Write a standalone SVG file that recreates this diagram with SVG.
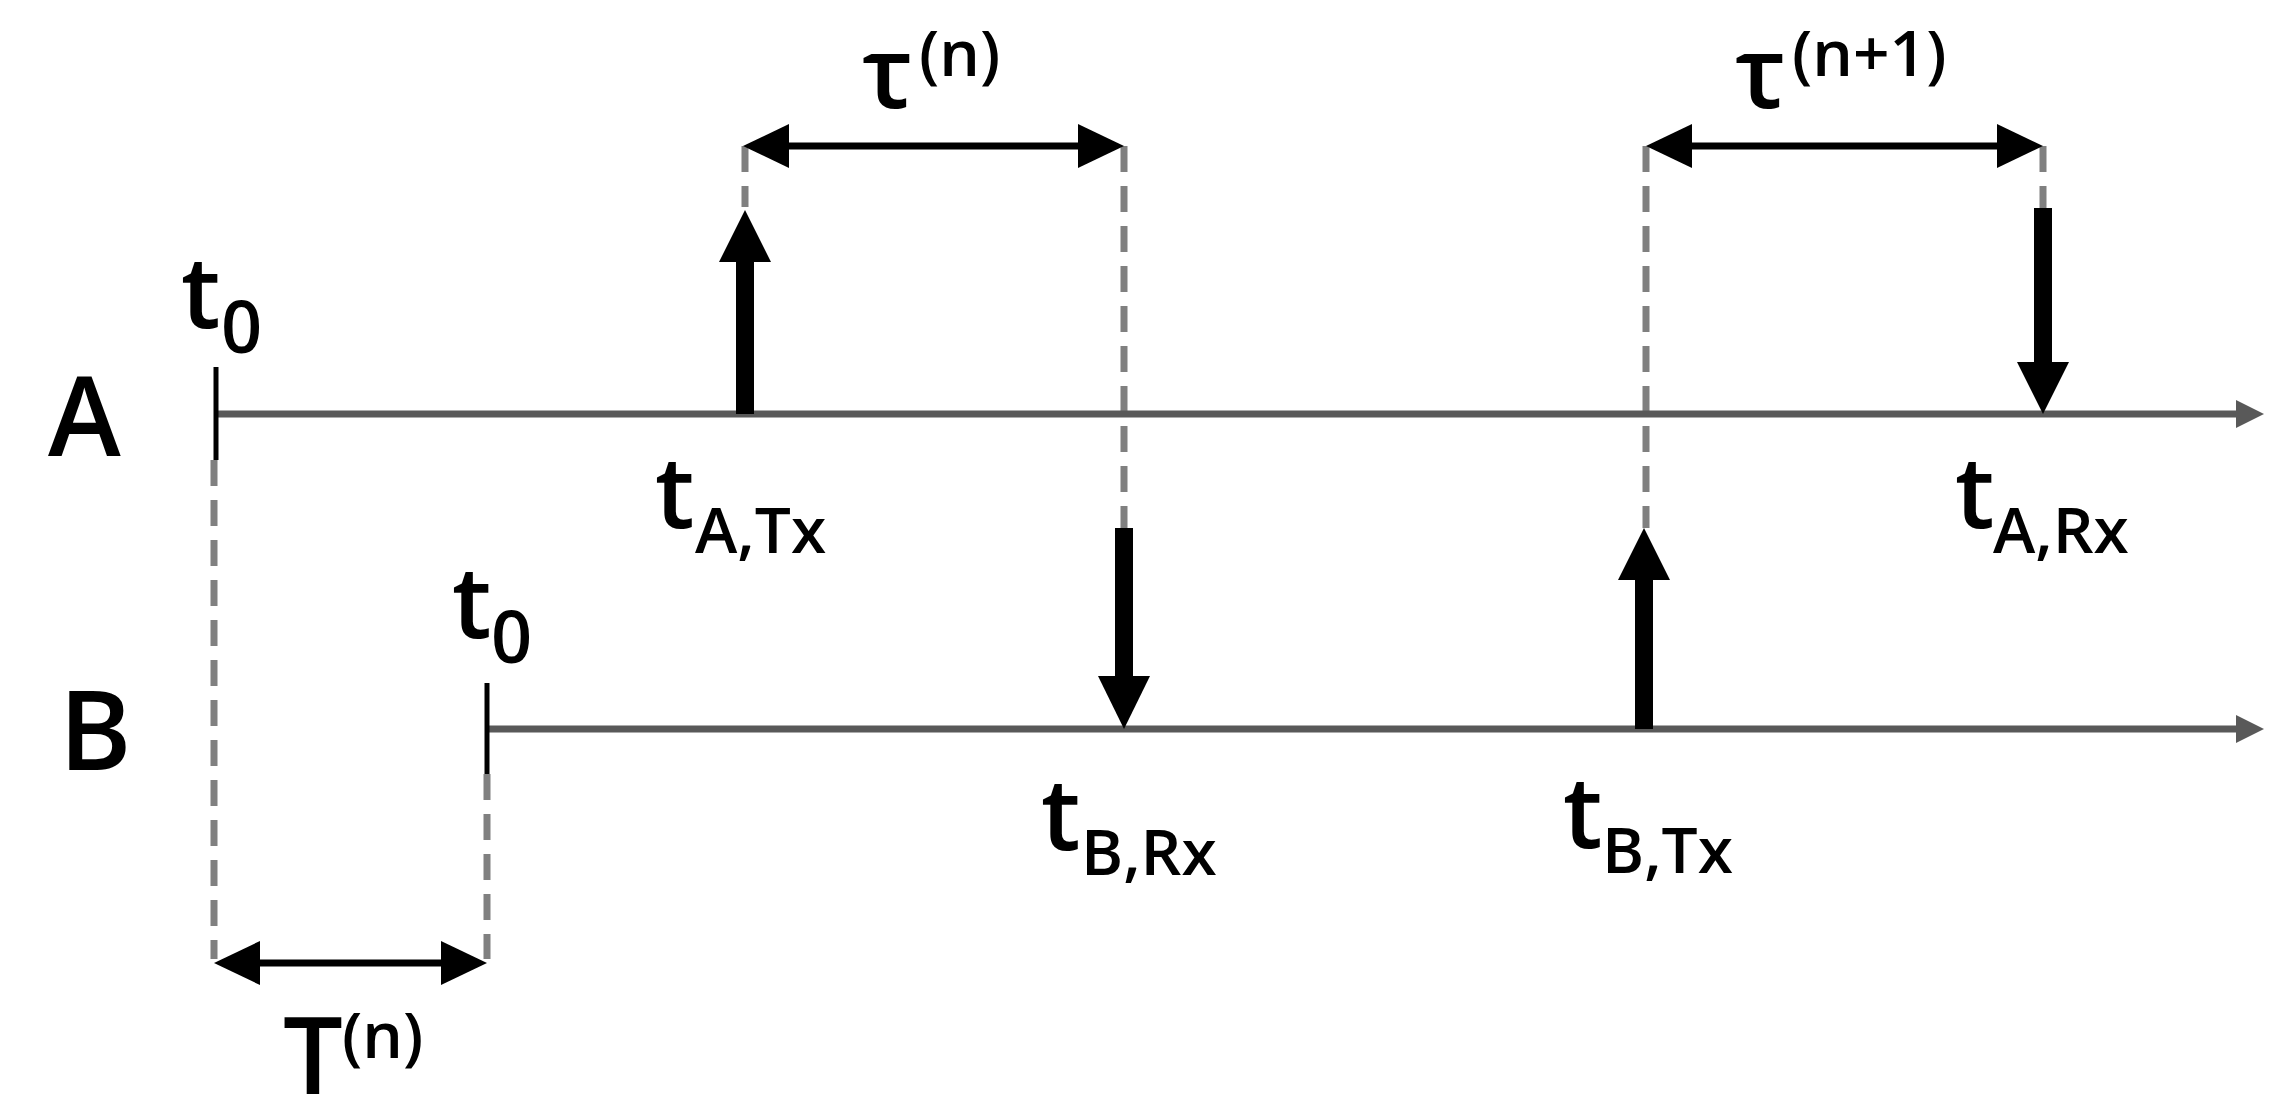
<svg xmlns="http://www.w3.org/2000/svg" width="2296" height="1118" viewBox="0 0 2296 1118">
<style>
text{font-family:"Open Sans","Liberation Sans",sans-serif;font-weight:600;fill:#000}
.axis{stroke:#595959;stroke-width:7;fill:none}
.dash{stroke:#808080;stroke-width:7;stroke-dasharray:26 14;fill:none}
.tick{stroke:#000;stroke-width:5}
.shaft{stroke:#000;stroke-width:18}
.dim{stroke:#000;stroke-width:7}
.big{font-size:100px}
.sub{font-size:64px}
.lab{font-size:110px}
</style>
<rect width="2296" height="1118" fill="#fff"/>
<g id="connectors">
<path class="dash" d="M214 460V959M487 774V959M745 146V207M1124 146V528M1646 146V528M2043 146V208"/>
<line class="axis" x1="216" y1="414" x2="2238" y2="414"/>
<polygon points="2236,400 2264,414 2236,428" fill="#595959"/>
<line class="axis" x1="487" y1="729" x2="2238" y2="729"/>
<polygon points="2236,715 2264,729 2236,743" fill="#595959"/>
<line class="tick" x1="216" y1="367" x2="216" y2="460"/>
<line class="tick" x1="487" y1="683" x2="487" y2="774"/>
<line class="shaft" x1="745" y1="414" x2="745" y2="258"/>
<polygon points="719,262 745,210 771,262"/>
<line class="shaft" x1="1124" y1="528" x2="1124" y2="680"/>
<polygon points="1098,676 1124,729 1150,676"/>
<line class="shaft" x1="1644" y1="729" x2="1644" y2="576"/>
<polygon points="1618,580 1644,528 1670,580"/>
<line class="shaft" x1="2043" y1="208" x2="2043" y2="366"/>
<polygon points="2017,362 2043,414 2069,362"/>
<line class="dim" x1="255" y1="963" x2="447" y2="963"/>
<polygon points="214,963 260,941 260,985"/><polygon points="487,963 441,941 441,985"/>
<line class="dim" x1="784" y1="146" x2="1083" y2="146"/>
<polygon points="743,146 789,124 789,168"/><polygon points="1124,146 1078,124 1078,168"/>
<line class="dim" x1="1687" y1="146" x2="2002" y2="146"/>
<polygon points="1646,146 1692,124 1692,168"/><polygon points="2043,146 1997,124 1997,168"/>
</g>
<g id="A"><text class="lab" x="48" y="456">A</text></g>
<g id="B"><text class="lab" x="59" y="770">B</text></g>
<g id="t0A"><text class="big" x="181" y="328">t</text><text x="221" y="353" font-size="72">0</text></g>
<g id="t0B"><text class="big" x="452" y="638">t</text><text x="491" y="663" font-size="72">0</text></g>
<g id="tATx"><text class="big" x="655" y="528">t</text><text class="sub" x="695" y="553">A,Tx</text></g>
<g id="tBRx"><text class="big" x="1041" y="850">t</text><text class="sub" x="1081" y="875">B,Rx</text></g>
<g id="tBTx"><text class="big" x="1563" y="848">t</text><text class="sub" x="1602" y="873">B,Tx</text></g>
<g id="tARx"><text class="big" x="1955" y="528">t</text><text class="sub" x="1993" y="553">A,Rx</text></g>
<g id="tau_n"><text class="big" x="862" y="108">τ</text><text class="sub" x="919" y="76">(n)</text></g>
<g id="tau_n1"><text class="big" x="1735" y="108">τ</text><text class="sub" x="1792" y="76">(n+1)</text></g>
<g id="T_n"><text x="283" y="1094" font-size="106">T</text><text class="sub" x="342" y="1058">(n)</text></g>
</svg>
